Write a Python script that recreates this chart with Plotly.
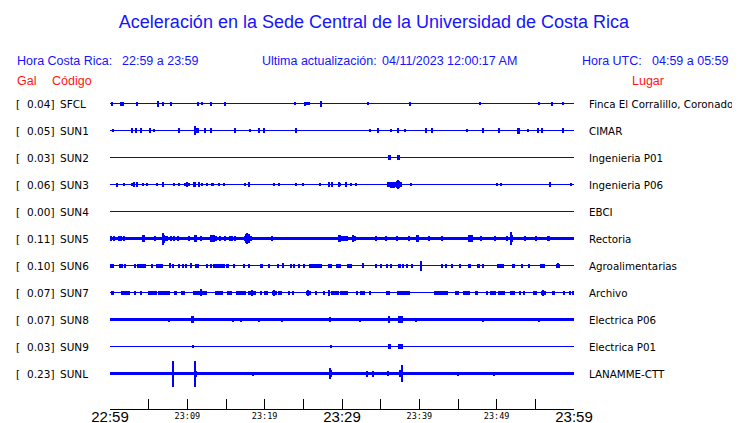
import plotly.graph_objects as go

# ---------------- data ----------------
codes = ["SFCL", "SUN1", "SUN2", "SUN3", "SUN4", "SUN5", "SUN6", "SUN7", "SUN8", "SUN9", "SUNL"]
gal = ["0.04", "0.05", "0.03", "0.06", "0.00", "0.11", "0.10", "0.07", "0.07", "0.03", "0.23"]
places = ["Finca El Corralillo, Coronado", "CIMAR", "Ingenieria P01", "Ingenieria P06", "EBCI",
          "Rectoria", "Agroalimentarias", "Archivo", "Electrica P06", "Electrica P01", "LANAMME-CTT"]

# minutes after 22:59 for the axis ticks and labels
tick_minutes = [0, 5, 10, 15, 20, 25, 30, 35, 40, 45, 50, 55, 60]
major_labels = {0: "22:59", 30: "23:29", 60: "23:59"}
minor_labels = {10: "23:09", 20: "23:19", 40: "23:39", 50: "23:49"}

# background noise level of each trace (relative amplitude units)
noise_level = [1, 1, 1, 1, 1, 3, 1, 1, 3, 1, 3]

# events per station: (start minute, duration minutes, half amplitude)
SFCL_EV = [(0.22, 0, 2), (1.42, 0, 2), (1.68, 0, 2), (3.53, 0, 2), (6.24, 0, 3), (6.89, 0, 2),
           (7.71, 0.26, 2), (11.19, 0.26, 2), (11.93, 0, 1.8), (12.92, 0.26, 2), (14.90, 0, 2),
           (23.94, 0, 1.8), (25.23, 0, 2), (25.49, 0, 1.8), (25.75, 0, 1.8), (27.21, 0.26, 3),
           (33.37, 0, 1.8), (38.79, 0, 2), (47.83, 0, 1.8), (55.45, 0, 1.8), (57.13, 0, 2), (58.55, 0, 1.8)]
SUN1_EV = [(0.43, 0, 1.8), (2.88, 0, 2.2), (3.32, 0.2, 2.2), (4.05, 0, 2.2), (5.21, 0, 2.2), (5.73, 0, 1.8),
           (8.96, 0, 2.2), (10.94, 0.6, 2.5), (11.0, 0, 4.5), (12.31, 0, 2.2), (13.09, 0, 2.2), (16.19, 0, 2.2),
           (18.13, 0, 1.8), (19.29, 0, 2.2), (19.89, 0.15, 2.2), (24.07, 0, 2.2), (33.63, 0, 1.8),
           (34.66, 0, 2.2), (36.33, 0, 1.8), (37.24, 0, 2.2), (38.14, 0, 1.8), (40.85, 0, 2.2), (41.63, 0, 2.2),
           (46.15, 0, 1.8), (48.22, 0, 2.2), (50.28, 0, 2.2), (52.74, 0, 3), (52.95, 0, 3), (54.03, 0, 1.8),
           (55.28, 0.12, 2.2), (55.84, 0, 2.2), (58.51, 0.2, 2.2)]
SUN2_EV = [(35.95, 0.43, 2.2), (37.16, 0.39, 2.2)]
SUN3_EV = [(0.73, 0.26, 2), (1.85, 0, 1.8), (2.80, 0, 1.8), (3.14, 0, 2.2), (3.53, 0, 2.2), (4.22, 0, 1.8),
           (4.78, 0, 1.8), (6.03, 0, 1.6), (6.72, 0.26, 2.2), (8.27, 0, 1.8), (8.96, 0, 1.8), (9.77, 0, 1.8),
           (9.99, 0, 2.2), (10.20, 0, 1.8), (10.76, 0.34, 2.2), (11.41, 0.17, 2.2), (11.93, 0, 1.8),
           (12.57, 0, 1.8), (13.17, 0, 1.8), (13.39, 0, 1.8), (14.12, 0, 1.6), (14.73, 0, 1.8), (17.48, 0, 1.6),
           (17.99, 0, 2.2), (21.23, 0, 1.8), (21.87, 0, 1.6), (24.07, 0, 1.8), (24.97, 0, 1.6), (27.17, 0, 1.6),
           (28.33, 0, 2.2), (28.76, 0, 2.2), (29.49, 0.26, 2.2), (29.71, 0.15, 1.8), (30.35, 0.26, 2.2),
           (31.22, 0, 1.8), (31.86, 0, 1.8), (35.87, 1.94, 2.2), (36.2, 0.6, 3), (37.0, 0.5, 3.2),
           (37.29, 0, 4.5), (38.92, 0, 1.8), (50.03, 0, 1.8), (50.54, 0, 1.8), (56.79, 0.26, 2.2), (59.63, 0, 1.8)]
SUN4_EV = []
SUN5_EV = [(0.0, 0.30, 2.7), (0.43, 0.09, 2.7), (1.08, 0.43, 2.7), (1.81, 0.09, 2.7), (4.09, 0.43, 3.3),
           (5.73, 0.17, 2.7), (6.67, 0.86, 2.8), (6.75, 0.4, 4), (6.89, 0, 6), (7.88, 0.17, 2.7),
           (8.18, 0.17, 2.7), (8.61, 0.26, 2.7), (10.12, 0.17, 2.7), (10.85, 0.43, 3.7), (11.75, 0.13, 2.7),
           (12.92, 0.65, 3.7), (13.65, 0.22, 2.7), (14.21, 0.17, 2.7), (14.77, 0.17, 2.7), (15.33, 0.60, 2.7),
           (16.06, 0.13, 2.7), (17.35, 0.95, 2.8), (17.5, 0.6, 4.5), (17.7, 0, 5.7), (20.92, 0.17, 2.7),
           (29.49, 0.43, 3.5), (29.71, 1.1, 2.7), (31.30, 0.56, 2.8), (31.4, 0.1, 3.7), (34.31, 0.13, 2.7),
           (35.60, 0.13, 2.7), (37.03, 0.17, 2.7), (38.66, 0.17, 2.7), (39.61, 0.30, 3.5), (41.16, 0.17, 2.7),
           (42.84, 0.22, 2.7), (46.33, 0.60, 3.7), (47.92, 0.17, 2.7), (49.73, 0.22, 2.7), (51.24, 0.22, 2.7),
           (51.67, 0.43, 3.5), (51.88, 0, 6.3), (53.65, 0.17, 2.7), (55.03, 0.17, 2.7), (56.62, 0.22, 2.7)]
SUN6_EV = [(0.09, 0.13, 2), (0.34, 0.09, 2), (1.16, 0.56, 2), (1.94, 0.13, 2), (3.14, 0.17, 2),
           (3.44, 1.16, 2), (5.25, 0.34, 2), (5.90, 0.99, 2), (7.75, 0.13, 2.8), (8.05, 0.22, 2),
           (8.91, 0.13, 2), (9.34, 0.09, 2), (9.77, 0.13, 2), (10.42, 0.13, 2.8), (10.98, 0.56, 2),
           (12.49, 0.17, 2), (12.96, 0.17, 2), (13.35, 1.51, 2), (15.11, 0.22, 2), (16.02, 0.13, 2),
           (17.22, 0.17, 2), (17.95, 0.09, 2), (19.42, 0.30, 2), (20.54, 0.17, 2), (21.61, 0.22, 2),
           (22.26, 0.26, 2.8), (23.34, 0.17, 2), (23.77, 0.17, 2), (24.41, 0.13, 2), (25.06, 0.09, 2),
           (25.70, 1.77, 2), (28.24, 0.43, 2), (29.19, 0.60, 2), (29.71, 0.22, 2), (30.70, 0.13, 2),
           (30.78, 0.56, 2), (32.72, 0.13, 2.8), (34.31, 0.13, 2), (34.96, 0.22, 2), (35.74, 0.22, 2),
           (36.17, 0.30, 2), (37.24, 0.34, 2), (37.80, 0.22, 2), (38.23, 0.30, 2), (38.96, 0.13, 2),
           (40.04, 0.34, 3), (40.2, 0, 5), (42.88, 0.17, 2), (43.40, 0.17, 2), (44.09, 0.26, 2),
           (45.20, 0.17, 2), (46.28, 0.43, 2), (47.58, 0.22, 2), (48.14, 0.17, 2), (50.03, 0.86, 2),
           (52.01, 0.39, 2), (53.17, 0.17, 2), (54.03, 0.30, 2), (55.54, 0.43, 2), (55.97, 0.26, 2),
           (57.69, 0.52, 2), (57.9, 0.1, 2.8)]
SUN7_EV = [(0.09, 0.43, 2), (1.38, 1.21, 2), (3.14, 0.17, 2), (3.96, 0.13, 2), (4.87, 1.16, 2),
           (6.24, 1.51, 2), (8.27, 0.34, 2), (9.17, 0.56, 2), (10.68, 1.89, 2), (11.84, 0, 3.5),
           (13.56, 0.99, 2), (15.07, 0.69, 2), (16.27, 1.38, 2), (17.87, 0.99, 2), (18.43, 0, 3),
           (19.50, 0.17, 2), (19.93, 0.52, 2), (21.01, 0.52, 2), (21.23, 0, 3), (21.74, 0.52, 2),
           (23.03, 0.22, 2), (23.59, 0.22, 2), (25.40, 0.60, 2), (25.6, 0, 3), (26.61, 0.17, 2),
           (27.64, 0.17, 2), (28.24, 0.26, 2), (28.35, 0, 3), (28.63, 0.99, 2), (29.71, 0.86, 2),
           (30.35, 0.43, 2), (31.86, 0.22, 2), (32.38, 0.56, 2), (33.58, 0.22, 2), (35.74, 0.52, 2),
           (37.16, 1.59, 2), (41.89, 1.81, 2), (44.56, 0.56, 2), (45.64, 0.86, 2), (47.15, 0.43, 2),
           (48.65, 0.22, 2), (49.08, 0.86, 2), (50.16, 0.95, 2), (51.75, 0.56, 2), (52.96, 0.22, 2),
           (53.47, 0.22, 2), (54.68, 0.52, 2), (55.76, 0.65, 2), (56.0, 0, 3), (57.26, 0.22, 2),
           (58.64, 0.26, 2), (59.42, 0.22, 2), (59.85, 0.15, 2)]
SUN8_EV = [(7.66, 0, 2), (10.6, 0.2, 3.5), (15.93, 0, 2), (17.0, 0, 2), (19.29, 0, 2), (22.26, 0, 2),
           (28.42, 0, 2.2), (32.3, 0, 2), (35.9, 0.3, 3.5), (37.2, 0.7, 3.5), (39.6, 0, 2), (48.2, 0, 2),
           (55.5, 0, 2)]
SUN9_EV = [(10.76, 0, 1.5), (28.55, 0, 1.5), (36.0, 0.35, 2.2), (37.3, 0.55, 2.2)]
SUNL_EV = [(8.18, 0, 13), (11.0, 0, 13), (11.0, 0.25, 3), (18.5, 0, 2), (28.3, 0.4, 3.5), (28.4, 0, 5.5),
           (33.2, 0, 3), (34.0, 0, 3), (36.0, 0, 2.5), (37.35, 0.55, 3.5), (37.8, 0, 8.6), (45.0, 0, 2),
           (49.7, 0, 2)]

events = [SFCL_EV, SUN1_EV, SUN2_EV, SUN3_EV, SUN4_EV, SUN5_EV, SUN6_EV, SUN7_EV, SUN8_EV, SUN9_EV, SUNL_EV]

# ---------------- layout geometry / style ----------------
OFF = 8                      # page body margin of the html page
W, H = 740 - OFF, 423 - OFF  # figure size so that it ends at the window edge
PLOT_LEFT, PLOT_RIGHT, PLOT_TOP, PLOT_BOTTOM = 110, 574, 90, 409   # window pixels
L = PLOT_LEFT - OFF
R = W - (PLOT_RIGHT - OFF)
T = PLOT_TOP - OFF
B = H - (PLOT_BOTTOM - OFF)
PW = W - L - R
PH = H - T - B
ROW_PX = 27.0
ROW0_PX, ROW10_PX = 103.5, 373.5
Y_TOP = -(ROW0_PX - PLOT_TOP) / ROW_PX
Y_BOT = 10 + (PLOT_BOTTOM - ROW10_PX) / ROW_PX
BLUE = "#0000FF"
TXT_BLUE = "#1414FF"
RED = "#FF1414"
MIN_W = 0.15


def px_x(px):
    return (px - PLOT_LEFT) / PW


def px_y(py):
    return (PLOT_BOTTOM - py) / PH


fig = go.Figure()

for i, code in enumerate(codes):
    fig.add_trace(go.Scatter(x=[0, 60], y=[i, i], mode="lines",
                             line=dict(color=BLUE, width=noise_level[i]),
                             showlegend=False, hoverinfo="skip"))
    ev = events[i]
    if ev:
        xs = [t + d / 2 for t, d, a in ev]
        ws = [max(d, MIN_W) for t, d, a in ev]
        bases = [i - a / ROW_PX for t, d, a in ev]
        hs = [2 * a / ROW_PX for t, d, a in ev]
        fig.add_trace(go.Bar(x=xs, y=hs, base=bases, width=ws,
                             marker=dict(color=BLUE, line=dict(width=0)),
                             showlegend=False, hoverinfo="skip"))

fig.add_trace(go.Scatter(x=[None], y=[None], xaxis="x2", showlegend=False, hoverinfo="skip"))

annotations = []


def add_text(text, px, py, color, size, family, anchor="left", yref_data=None):
    annotations.append(dict(
        text=text, x=px_x(px), xref="paper",
        y=(yref_data if yref_data is not None else px_y(py)),
        yref=("y" if yref_data is not None else "paper"),
        xanchor=anchor, yanchor="middle", showarrow=False,
        font=dict(color=color, size=size, family=family)))


HF = "Liberation Sans, Arial, sans-serif"
add_text("Hora Costa Rica:", 15, 61, TXT_BLUE, 12.5, HF)
add_text("22:59 a 23:59", 120, 61, TXT_BLUE, 12.5, HF)
add_text("Ultima actualización:", 260, 61, TXT_BLUE, 12.5, HF)
add_text("04/11/2023 12:00:17 AM", 380, 61, TXT_BLUE, 12.5, HF)
add_text("Hora UTC:", 580, 61, TXT_BLUE, 12.5, HF)
add_text("04:59 a 05:59", 650, 61, TXT_BLUE, 12.5, HF)
add_text("Gal", 15, 81, RED, 12.5, HF)
add_text("Código", 50, 81, RED, 12.5, HF)
add_text("Lugar", 630, 81, RED, 12.5, HF)

LF = "DejaVu Sans, sans-serif"
RF = "DejaVu Sans, sans-serif"
for i, code in enumerate(codes):
    add_text("[", 14, 0, "#000000", 10.5, LF, "left", i)
    add_text(gal[i] + "]", 56, 0, "#000000", 10.5, LF, "right", i)
    add_text(code, 58, 0, "#000000", 10.5, LF, "left", i)
    add_text(places[i], 586.5, 0, "#000000", 10.3, RF, "left", i)

fig.update_layout(
    width=W, height=H,
    margin=dict(l=L, r=R, t=T, b=B, pad=0, autoexpand=False),
    paper_bgcolor="white", plot_bgcolor="white",
    barmode="overlay", bargap=0, showlegend=False, hovermode=False,
    title=dict(text="Aceleración en la Sede Central de la Universidad de Costa Rica",
               x=(374 - OFF) / W, xref="container", xanchor="center",
               y=1 - (22 - OFF) / H, yref="container", yanchor="middle",
               font=dict(color=TXT_BLUE, size=18, family=HF)),
    xaxis=dict(range=[0, 60], showgrid=False, zeroline=False, showline=True,
               linecolor="#000000", linewidth=1, ticks="inside", ticklen=10,
               tickcolor="#000000", tickwidth=1,
               tickvals=tick_minutes,
               ticktext=[major_labels.get(m, "") for m in tick_minutes],
               tickfont=dict(family="Liberation Sans, Arial, sans-serif", size=15, color="#000000"),
               ticklabelstandoff=-6,
               fixedrange=True),
    xaxis2=dict(range=[0, 60], overlaying="x", anchor="y", side="bottom",
                showgrid=False, zeroline=False, showline=False, ticks="",
                tickvals=list(minor_labels.keys()), ticktext=list(minor_labels.values()),
                tickfont=dict(family="DejaVu Sans Mono, monospace", size=8.5, color="#000000"),
                fixedrange=True),
    yaxis=dict(range=[Y_BOT, Y_TOP], showgrid=False, zeroline=False, showline=False,
               showticklabels=False, ticks="", fixedrange=True),
    annotations=annotations,
)

fig.write_html("out.html")
